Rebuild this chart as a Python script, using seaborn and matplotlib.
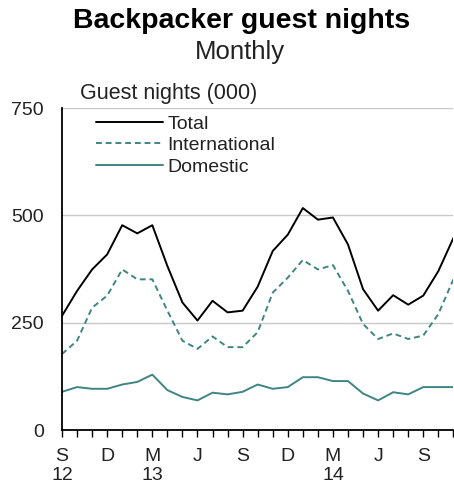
import matplotlib
matplotlib.use("Agg")
import matplotlib.pyplot as plt
import seaborn as sns
import pandas as pd

# monthly, Sep 2012 - Nov 2014, thousands of guest nights
months = pd.date_range("2012-09-01", "2014-11-01", freq="MS")
total = [266, 324, 374, 409, 477, 458, 477, 382, 297, 255, 301, 274, 278,
         334, 417, 455, 517, 490, 495, 432, 328, 278, 314, 292, 313, 370, 447]
international = [177, 208, 285, 313, 374, 351, 351, 278, 208, 189, 218, 193, 193,
                 228, 320, 355, 396, 374, 384, 324, 247, 212, 225, 212, 220, 270, 351]
domestic = [89, 100, 96, 96, 106, 112, 129, 93, 77, 69, 87, 83, 89,
            106, 96, 100, 123, 123, 114, 114, 85, 69, 88, 83, 100, 100, 100]
tick_labels = ["S\n12", "D", "M\n13", "J", "S", "D", "M\n14", "J", "S"]

sns.set_style("white")
plt.rcParams["font.family"] = ["Liberation Sans", "DejaVu Sans"]

idx = list(range(len(months)))
teal = "#3f8584"
txt = "#222222"

fig = plt.figure(figsize=(4.54, 4.91), dpi=100)
ax = fig.add_axes([0.1366, 0.1242, 0.862, 0.6558])

sns.lineplot(x=idx, y=total, ax=ax, color="black", lw=1.4, label="Total")
sns.lineplot(x=idx, y=international, ax=ax, color=teal, lw=1.4,
             dashes=False, label="International")
ax.lines[-1].set_dashes([3, 2])
sns.lineplot(x=idx, y=domestic, ax=ax, color=teal, lw=1.4, label="Domestic")

ax.set_xlim(0, len(months) - 1)
ax.set_ylim(0, 750)
ax.set_yticks([0, 250, 500, 750])
ax.set_yticklabels(["0", "250", "500", "750"], fontsize=14, color=txt)
ax.tick_params(axis="y", length=0, pad=13)
ax.set_xticks(idx, minor=True)
ax.set_xticks(idx[::3])
ax.set_xticklabels(tick_labels, fontsize=14, linespacing=1.15, color=txt)
ax.tick_params(axis="x", which="both", direction="out", length=5, width=1,
               color="black", bottom=True, pad=8)

ax.grid(axis="y", color="#c8c8c8", lw=1)
for s in ["top", "right"]:
    ax.spines[s].set_visible(False)
for s in ["left", "bottom"]:
    ax.spines[s].set_color("black")
    ax.spines[s].set_linewidth(1.3)

leg = ax.legend(loc="upper left", bbox_to_anchor=(0.078, 0.99), frameon=False,
                fontsize=14, handlelength=3.4, handletextpad=0.25,
                labelspacing=0.2, borderpad=0.2, borderaxespad=0)
leg.get_lines()[1].set_dashes([3, 2])
for t in leg.get_texts():
    t.set_color(txt)

ax.text(0.045, 1.012, "Guest nights (000)", transform=ax.transAxes,
        fontsize=15.5, ha="left", va="bottom", color=txt)
fig.text(0.531, 0.958, "Backpacker guest nights", ha="center", va="center",
         fontsize=20.5, fontweight="bold", color="black")
fig.text(0.529, 0.895, "Monthly", ha="center", va="center", fontsize=18.5,
         color=txt)

fig.savefig("out.png", dpi=100)
